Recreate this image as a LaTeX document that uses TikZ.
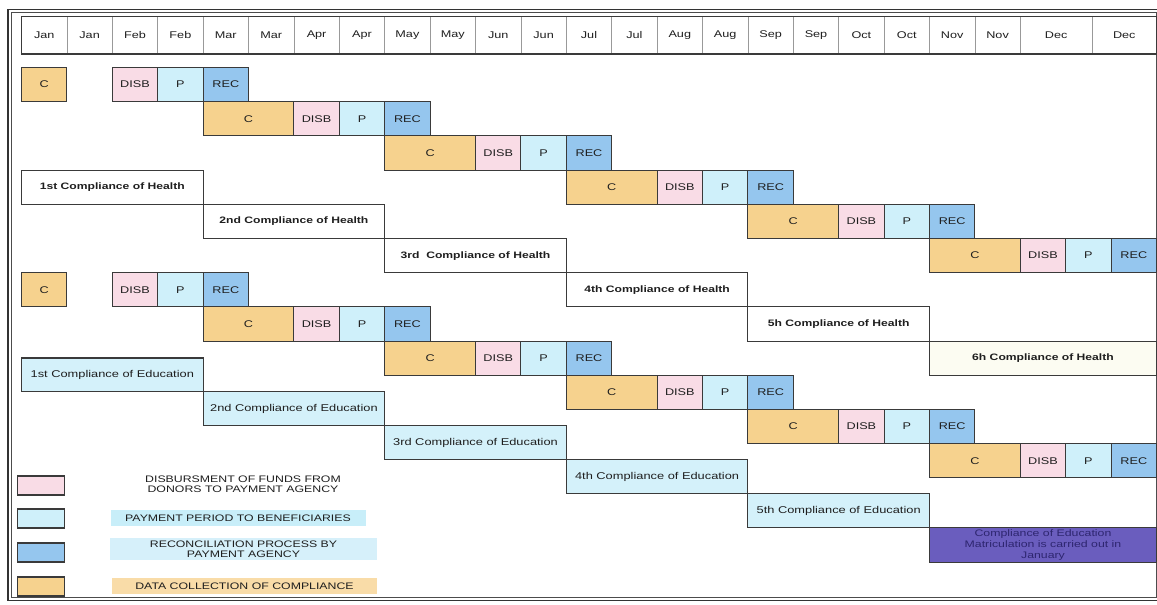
\documentclass[tikz,border=0pt]{standalone}
\usepackage{fontspec}
\setmainfont{Liberation Sans}[FakeStretch=1.3]

% palette
\definecolor{collect}{HTML}{F6D28E}
\definecolor{disb}{HTML}{F9DCE6}
\definecolor{pay}{HTML}{CFF0FA}
\definecolor{recon}{HTML}{95C6EE}
\definecolor{edu}{HTML}{D4F1FA}
\definecolor{cream}{HTML}{FCFCF2}
\definecolor{matric}{HTML}{6A5DBE}
\definecolor{matrictext}{HTML}{2E2670}
\definecolor{inkline}{HTML}{3A3A3A}
\definecolor{bandpay}{HTML}{C8EEF9}
\definecolor{bandrec}{HTML}{D6F0FA}
\definecolor{banddata}{HTML}{F9DCA8}

% month grid: origin and column width (in px units)
\newcommand{\GridXo}{21.5}
\newcommand{\GridW}{45.4}
% box on the month grid: name, style, first column, columns, top, height, text
\newcommand{\GBox}[7]{%
  \node[cell,#2,minimum width={#4*\GridW*0.75pt},minimum height={#6*0.75pt}]
    (#1) at ({\GridXo+#3*\GridW},#5) {#7};}

\begin{document}
\begin{tikzpicture}[x=0.75pt,y=-0.75pt,
  every node/.style={font=\fontsize{7.3}{8.6}\selectfont, text=black!88},
  cell/.style={draw=inkline, line width=0.8pt, inner sep=0pt, outer sep=0pt, anchor=north west},
  hdrcell/.style={cell, draw=black!40, line width=0.6pt},
  cbox/.style={fill=collect},
  dbox/.style={fill=disb},
  pbox/.style={fill=pay},
  rbox/.style={fill=recon},
  healthbox/.style={fill=white, font=\fontsize{7}{8.4}\selectfont\bfseries},
  edubox/.style={fill=edu, font=\fontsize{7.4}{8.6}\selectfont},
  matricbox/.style={fill=matric, text=matrictext, align=center,
    font=\fontsize{7.1}{8.3}\selectfont},
  swatch/.style={cell, line width=0.9pt, minimum width=35.25pt, minimum height=14.25pt},
  band/.style={inner sep=0pt, outer sep=0pt, minimum width=200pt, align=center,
    font=\fontsize{7.1}{7.6}\selectfont},
]
\useasboundingbox (0,0) rectangle (1157,604);
\fill[white] (0,0) rectangle (1157,604);

% ---- outer double frame
\draw[line width=1.1pt, black!80] (8,9.5) rectangle (1160,600.5);
\draw[line width=0.6pt, black!70] (11.5,12.5) rectangle (1156.5,597);

% ---- month header
\foreach \m [count=\i from 0] in {Jan,Jan,Feb,Feb,Mar,Mar,Apr,Apr,May,May,Jun,Jun,
                                  Jul,Jul,Aug,Aug,Sep,Sep,Oct,Oct,Nov,Nov}{
  \GBox{hdr\i}{hdrcell}{\i}{1}{16.5}{37.5}{\m}
}
\node[hdrcell, minimum width={(1092-1020.3)*0.75pt}, minimum height={37.5*0.75pt}]
  (hdr22) at (1020.3,16.5) {Dec};
\node[hdrcell, minimum width={(1156.5-1092)*0.75pt}, minimum height={37.5*0.75pt}]
  (hdr23) at (1092,16.5) {Dec};
\draw[line width=0.9pt, inkline] (hdr0.north west) rectangle (hdr23.south east);

% ---- health payment cycles (collection, disbursement, payment, reconciliation)
\foreach \k in {1,...,6}{
  \pgfmathsetmacro{\ty}{67.5+34.2*(\k-1)}
  \pgfmathtruncatemacro{\cs}{\k==1 ? 0 : 4*(\k-1)}
  \pgfmathtruncatemacro{\cn}{\k==1 ? 1 : 2}
  \pgfmathtruncatemacro{\dc}{4*\k-2}
  \pgfmathtruncatemacro{\pc}{4*\k-1}
  \pgfmathtruncatemacro{\rc}{4*\k}
  \GBox{hC\k}{cbox}{\cs}{\cn}{\ty}{34.2}{C}
  \GBox{hD\k}{dbox}{\dc}{1}{\ty}{34.2}{DISB}
  \GBox{hP\k}{pbox}{\pc}{1}{\ty}{34.2}{P}
  \GBox{hR\k}{rbox}{\rc}{1}{\ty}{34.2}{REC}
}

% ---- education payment cycles
\foreach \k in {1,...,6}{
  \pgfmathsetmacro{\ty}{67.5+34.2*(\k+5)}
  \pgfmathtruncatemacro{\cs}{\k==1 ? 0 : 4*(\k-1)}
  \pgfmathtruncatemacro{\cn}{\k==1 ? 1 : 2}
  \pgfmathtruncatemacro{\dc}{4*\k-2}
  \pgfmathtruncatemacro{\pc}{4*\k-1}
  \pgfmathtruncatemacro{\rc}{4*\k}
  \GBox{eC\k}{cbox}{\cs}{\cn}{\ty}{34.2}{C}
  \GBox{eD\k}{dbox}{\dc}{1}{\ty}{34.2}{DISB}
  \GBox{eP\k}{pbox}{\pc}{1}{\ty}{34.2}{P}
  \GBox{eR\k}{rbox}{\rc}{1}{\ty}{34.2}{REC}
}

% ---- health compliance periods
\foreach \k/\lab in {1/1st Compliance of Health, 2/2nd Compliance of Health,
                     3/3rd~ Compliance of Health, 4/4th Compliance of Health,
                     5/5h Compliance of Health}{
  \pgfmathsetmacro{\ty}{67.5+34.2*(\k+2)}
  \pgfmathtruncatemacro{\cs}{4*(\k-1)}
  \GBox{health\k}{healthbox}{\cs}{4}{\ty}{34.2}{\lab}
}
\GBox{health6}{healthbox,fill=cream}{20}{5}{{67.5+34.2*8}}{34.2}{6h Compliance of Health}

% ---- education compliance periods
\foreach \k/\lab in {1/1st Compliance of Education, 2/2nd Compliance of Education,
                     3/3rd Compliance of Education, 4/4th Compliance of Education,
                     5/5th Compliance of Education}{
  \pgfmathsetmacro{\ty}{358+33.9*(\k-1)}
  \pgfmathtruncatemacro{\cs}{4*(\k-1)}
  \GBox{edu\k}{edubox}{\cs}{4}{\ty}{33.9}{\lab}
}
\GBox{matric}{matricbox}{20}{5}{527.5}{35}{Compliance of Education\\Matriculation is carried out in\\January}

% ---- legend
\node[swatch, fill=disb]    (lgD) at (17.5,476) {};
\node[swatch, fill=pay]     (lgP) at (17.5,509) {};
\node[swatch, fill=recon]   (lgR) at (17.5,543) {};
\node[swatch, fill=collect] (lgC) at (17.5,577) {};

\node[band] (txD) at (243,484) {DISBURSMENT OF FUNDS FROM\\DONORS TO PAYMENT AGENCY};
\node[band, fill=bandpay, minimum width={255*0.75pt}, minimum height={16*0.75pt}]
  (txP) at (238,518) {PAYMENT PERIOD TO BENEFICIARIES};
\node[band, fill=bandrec, minimum width={267*0.75pt}, minimum height={22*0.75pt}]
  (txR) at (243.5,549) {RECONCILIATION PROCESS BY\\PAYMENT AGENCY};
\node[band, fill=banddata, minimum width={265*0.75pt}, minimum height={16*0.75pt}]
  (txC) at (244.5,586) {DATA COLLECTION OF COMPLIANCE};
\end{tikzpicture}
\end{document}
